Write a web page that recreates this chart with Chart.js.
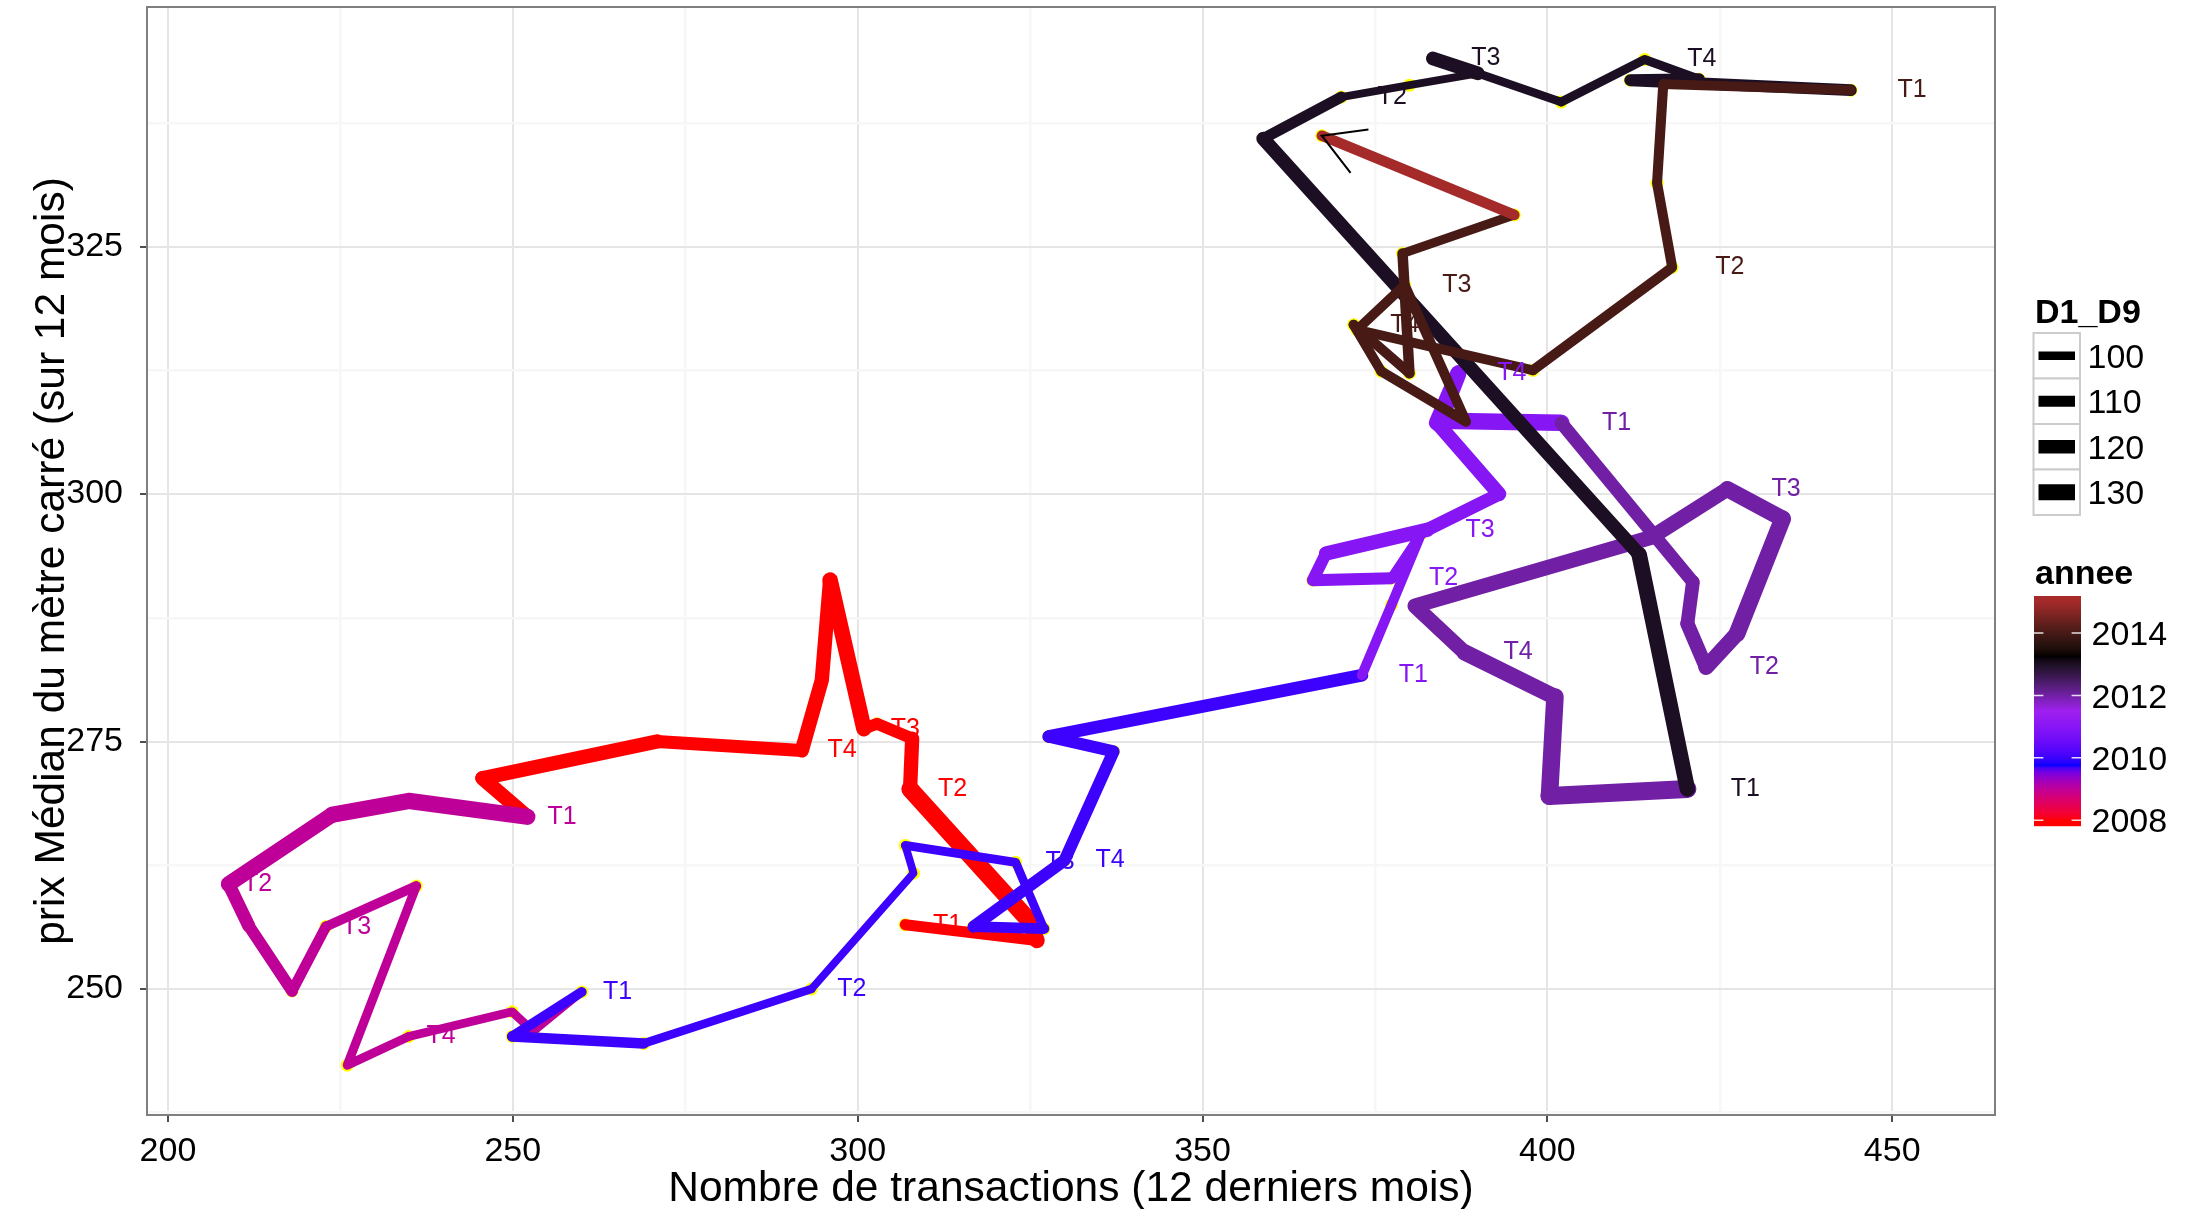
<!DOCTYPE html>
<html lang="fr">
<head>
<meta charset="utf-8">
<title>Prix médian du mètre carré vs nombre de transactions</title>
<script src="https://cdn.jsdelivr.net/npm/chart.js@4.4.1/dist/chart.umd.min.js"></script>
<style>
html, body { margin: 0; padding: 0; background: #ffffff; overflow: hidden; }
canvas { display: block; }
</style>
</head>
<body>
<canvas id="graphique" width="2191" height="1209"></canvas>
<script>
// ---------- Données ----------
const annees = [2008, 2009, 2010, 2011, 2012, 2013, 2014, 2015];

const nb2008   = [306.9, 326.0, 324.6, 307.6, 307.9, 302.8, 300.9, 296.0, 294.8, 291.9, 270.9, 245.6];
const prix2008 = [256.5, 254.9, 257.1, 270.2, 275.3, 276.8, 276.3, 291.3, 281.2, 274.1, 275.0, 271.3];
const d1d9_2008 = [111, 129, 137, 124, 114, 114, 129, 124, 124, 119, 124, 125];

const nb2009   = [252.1, 234.9, 223.8, 208.8, 211.7, 218.0, 222.9, 236.0, 226.0, 234.9, 249.9, 253.0];
const prix2009 = [267.4, 269.0, 267.6, 260.6, 256.4, 249.8, 256.3, 260.4, 242.3, 245.2, 247.7, 245.7];
const d1d9_2009 = [132, 132, 129, 119, 114, 109, 106, 103, 103, 101, 101, 98];

const nb2010   = [260.0, 249.9, 269.0, 293.3, 308.1, 306.9, 322.9, 327.0, 316.8, 330.0, 337.1, 327.7];
const prix2010 = [249.7, 245.2, 244.5, 250.0, 261.7, 264.5, 262.8, 256.1, 256.3, 263.0, 274.0, 275.5];
const d1d9_2010 = [106, 109, 101, 98, 98, 102, 102, 110, 115, 115, 115, 118];

const nb2011   = [373.1, 377.4, 381.7, 377.4, 366.0, 367.9, 382.6, 393.0, 384.0, 387.1, 384.4, 393.0];
const prix2011 = [281.7, 288.8, 296.0, 291.5, 291.3, 294.0, 296.4, 300.0, 307.2, 312.2, 307.4, 307.3];
const d1d9_2011 = [107, 107, 106, 115, 115, 124, 119, 124, 132, 132, 133, 133];

const nb2012   = [402.0, 421.1, 420.3, 423.0, 427.5, 434.1, 426.1, 415.0, 380.8, 388.0, 401.1, 400.3];
const prix2012 = [307.2, 291.1, 286.9, 282.5, 285.9, 297.5, 300.5, 295.6, 288.7, 284.0, 279.5, 269.5];
const d1d9_2012 = [119, 122, 124, 129, 134, 132, 127, 127, 127, 132, 137, 139];

const nb2013   = [420.3, 413.3, 358.8, 370.1, 380.0, 389.9, 383.4, 389.9, 402.0, 414.1, 422.0, 412.0];
const prix2013 = [270.2, 293.9, 335.9, 340.1, 341.3, 342.5, 344.0, 342.5, 339.6, 343.9, 341.9, 341.8];
const d1d9_2013 = [129, 122, 111, 98, 98, 98, 122, 101, 103, 103, 114, 114];

const nb2014   = [444.0, 416.8, 415.9, 418.1, 397.9, 372.4, 379.3, 388.2, 375.9, 371.9, 380.0, 379.0];
const prix2014 = [340.8, 341.4, 331.4, 322.9, 312.5, 316.6, 321.1, 307.3, 312.4, 317.1, 312.2, 324.3];
const d1d9_2014 = [106, 107, 107, 107, 106, 106, 107, 107, 106, 107, 109, 103];

const nb2015   = [395.2, 367.3];
const prix2015 = [328.2, 336.2];
const d1d9_2015 = [109, 109];

const trimestres = ['T1', '', '', 'T2', '', '', 'T3', '', '', 'T4', '', ''];
const anneesEtiquetees = [2008, 2009, 2010, 2011, 2012, 2013, 2014];

const xTicks = [200, 250, 300, 350, 400, 450];
const yTicks = [250, 275, 300, 325];
const d1d9Breaks = [100, 110, 120, 130];
const anneeBreaks = [2008, 2010, 2012, 2014];

// ---------- Echelles de couleur / taille ----------
const FONT = '"Liberation Sans", Arial, Helvetica, sans-serif';
const echelleCouleurs = ['#FF0000', '#0000FF', '#A020F0', '#000000', '#A52A2A'];
const anneeMin = 2008, anneeMax = 2015;

function hexVersRgb(h) { const n = parseInt(h.slice(1), 16); return [(n >> 16) & 255, (n >> 8) & 255, n & 255]; }
function versLin(c) { c /= 255; return c <= 0.04045 ? c / 12.92 : Math.pow((c + 0.055) / 1.055, 2.4); }
function versSrgb(c) { const v = c <= 0.0031308 ? 12.92 * c : 1.055 * Math.pow(c, 1 / 2.4) - 0.055; return Math.round(Math.max(0, Math.min(1, v)) * 255); }
function rgbVersLab(rgb) {
  const R = versLin(rgb[0]), G = versLin(rgb[1]), B = versLin(rgb[2]);
  const X = (0.4124564 * R + 0.3575761 * G + 0.1804375 * B) / 0.95047;
  const Y = (0.2126729 * R + 0.7151522 * G + 0.0721750 * B);
  const Z = (0.0193339 * R + 0.1191920 * G + 0.9503041 * B) / 1.08883;
  const f = t => t > 0.008856 ? Math.cbrt(t) : 7.787 * t + 16 / 116;
  const fx = f(X), fy = f(Y), fz = f(Z);
  return [116 * fy - 16, 500 * (fx - fy), 200 * (fy - fz)];
}
function labVersRgb(lab) {
  const fy = (lab[0] + 16) / 116, fx = fy + lab[1] / 500, fz = fy - lab[2] / 200;
  const inv = t => (t * t * t > 0.008856 ? t * t * t : (t - 16 / 116) / 7.787);
  const X = inv(fx) * 0.95047, Y = inv(fy), Z = inv(fz) * 1.08883;
  const R = 3.2404542 * X - 1.5371385 * Y - 0.4985314 * Z;
  const G = -0.9692660 * X + 1.8760108 * Y + 0.0415560 * Z;
  const B = 0.0556434 * X - 0.2040259 * Y + 1.0572252 * Z;
  return [versSrgb(R), versSrgb(G), versSrgb(B)];
}
const labsEchelle = echelleCouleurs.map(h => rgbVersLab(hexVersRgb(h)));
function couleurAnnee(v) {
  const t = Math.max(0, Math.min(1, (v - anneeMin) / (anneeMax - anneeMin)));
  const n = labsEchelle.length - 1;
  const s = Math.min(Math.floor(t * n), n - 1);
  const f = t * n - s;
  const a = labsEchelle[s], b = labsEchelle[s + 1];
  const rgb = labVersRgb([a[0] + (b[0] - a[0]) * f, a[1] + (b[1] - a[1]) * f, a[2] + (b[2] - a[2]) * f]);
  return 'rgb(' + rgb[0] + ',' + rgb[1] + ',' + rgb[2] + ')';
}
function largeur(d) { return 8.3 + 0.25 * (d - 100); }

// ---------- Construction des points ----------
const series = [
  [2008, nb2008, prix2008, d1d9_2008],
  [2009, nb2009, prix2009, d1d9_2009],
  [2010, nb2010, prix2010, d1d9_2010],
  [2011, nb2011, prix2011, d1d9_2011],
  [2012, nb2012, prix2012, d1d9_2012],
  [2013, nb2013, prix2013, d1d9_2013],
  [2014, nb2014, prix2014, d1d9_2014],
  [2015, nb2015, prix2015, d1d9_2015]
];
const points = [], pointAnnee = [], pointD = [], pointTrim = [];
series.forEach(([an, xs, ys, ds]) => {
  xs.forEach((x, i) => {
    points.push({ x: x, y: ys[i] });
    pointAnnee.push(an);
    pointD.push(ds[i]);
    pointTrim.push(anneesEtiquetees.includes(an) ? trimestres[i] : '');
  });
});
const pointCouleur = pointAnnee.map(a => couleurAnnee(a));

// ---------- Plugins de dessin ----------
const pluginPanneau = {
  id: 'panneau',
  afterDatasetsDraw(chart) {
    const ctx = chart.ctx, ca = chart.chartArea;
    const xs = chart.scales.x, ys = chart.scales.y;
    ctx.save();
    ctx.beginPath();
    ctx.rect(ca.left, ca.top, ca.right - ca.left, ca.bottom - ca.top);
    ctx.clip();
    // étiquettes trimestrielles
    ctx.font = '25px ' + FONT;
    ctx.textAlign = 'center';
    ctx.textBaseline = 'middle';
    points.forEach((p, i) => {
      if (!pointTrim[i]) return;
      ctx.fillStyle = pointCouleur[i];
      ctx.fillText(pointTrim[i], xs.getPixelForValue(p.x * 1.02), ys.getPixelForValue(p.y));
    });
    // flèche finale
    const n = points.length;
    const tx = xs.getPixelForValue(points[n - 1].x), ty = ys.getPixelForValue(points[n - 1].y);
    const px = xs.getPixelForValue(points[n - 2].x), py = ys.getPixelForValue(points[n - 2].y);
    const ang = Math.atan2(py - ty, px - tx);
    const L = 47, A = Math.PI / 6;
    ctx.strokeStyle = '#000000';
    ctx.lineWidth = 2;
    ctx.lineCap = 'butt';
    ctx.beginPath();
    ctx.moveTo(tx + L * Math.cos(ang + A), ty + L * Math.sin(ang + A));
    ctx.lineTo(tx, ty);
    ctx.lineTo(tx + L * Math.cos(ang - A), ty + L * Math.sin(ang - A));
    ctx.stroke();
    ctx.restore();
    // bordure du panneau
    ctx.save();
    ctx.strokeStyle = '#7F7F7F';
    ctx.lineWidth = 2;
    ctx.strokeRect(ca.left, ca.top, ca.right - ca.left, ca.bottom - ca.top);
    ctx.restore();
  }
};

const pluginLegendes = {
  id: 'legendes',
  afterDraw(chart) {
    const ctx = chart.ctx;
    ctx.save();
    ctx.textAlign = 'left';
    ctx.textBaseline = 'alphabetic';
    // Légende D1_D9
    ctx.fillStyle = '#000000';
    ctx.font = 'bold 34px ' + FONT;
    ctx.fillText('D1_D9', 2035, 323);
    const bx = 2033.5, bw = 46.5, btop = 333, bh = 45.5;
    d1d9Breaks.forEach((b, i) => {
      const y0 = btop + i * bh;
      ctx.fillStyle = '#FFFFFF';
      ctx.fillRect(bx, y0, bw, bh);
      ctx.strokeStyle = '#CCCCCC';
      ctx.lineWidth = 2;
      ctx.strokeRect(bx, y0, bw, bh);
      ctx.strokeStyle = '#000000';
      ctx.lineWidth = largeur(b);
      ctx.lineCap = 'butt';
      ctx.beginPath();
      ctx.moveTo(bx + 5, y0 + bh / 2);
      ctx.lineTo(bx + bw - 5, y0 + bh / 2);
      ctx.stroke();
      ctx.fillStyle = '#000000';
      ctx.font = '34px ' + FONT;
      ctx.fillText(String(b), 2087.5, y0 + bh / 2 + 0.358 * 34);
    });
    // Légende annee
    ctx.font = 'bold 34px ' + FONT;
    ctx.fillStyle = '#000000';
    ctx.fillText('annee', 2035, 583.5);
    const cx = 2034, cw = 47, ctop = 596, cbot = 826;
    const nbin = 20;
    const hbin = (cbot - ctop) / nbin;
    const yBas = cbot - hbin / 2, yHaut = ctop + hbin / 2;
    const pxParAn = (yBas - yHaut) / (anneeMax - anneeMin);
    for (let y = ctop; y < cbot; y++) {
      const v = Math.max(anneeMin, Math.min(anneeMax, anneeMin + (yBas - (y + 0.5)) / pxParAn));
      ctx.fillStyle = couleurAnnee(v);
      ctx.fillRect(cx, y, cw, 1.2);
    }
    anneeBreaks.forEach(a => {
      const y = yBas - (a - anneeMin) * pxParAn;
      ctx.strokeStyle = 'rgba(255,255,255,0.85)';
      ctx.lineWidth = 1.5;
      ctx.beginPath();
      ctx.moveTo(cx, y); ctx.lineTo(cx + cw / 5, y);
      ctx.moveTo(cx + cw - cw / 5, y); ctx.lineTo(cx + cw, y);
      ctx.stroke();
      ctx.fillStyle = '#000000';
      ctx.font = '34px ' + FONT;
      ctx.fillText(String(a), 2091.5, y + 0.358 * 34);
    });
    ctx.restore();
  }
};

// ---------- Graphique ----------
const estMajeurX = v => xTicks.includes(v);
const estMajeurY = v => yTicks.includes(v);

new Chart(document.getElementById('graphique'), {
  type: 'scatter',
  data: {
    datasets: [
      {
        label: 'chemin',
        data: points,
        showLine: true,
        order: 1,
        pointRadius: 0,
        pointHitRadius: 0,
        borderCapStyle: 'round',
        borderJoinStyle: 'round',
        tension: 0,
        borderColor: pointCouleur[0],
        borderWidth: largeur(pointD[0]),
        segment: {
          borderColor: c => pointCouleur[c.p0DataIndex],
          borderWidth: c => largeur(pointD[c.p0DataIndex])
        }
      },
      {
        label: 'points',
        data: points,
        showLine: false,
        order: 2,
        pointRadius: 6.5,
        pointBorderWidth: 0,
        pointBackgroundColor: '#FFFF00',
        pointBorderColor: '#FFFF00'
      }
    ]
  },
  options: {
    responsive: false,
    animation: false,
    devicePixelRatio: 1,
    events: [],
    layout: { padding: { left: 0, right: 196, top: 7, bottom: 0 } },
    plugins: { legend: { display: false }, tooltip: { enabled: false } },
    scales: {
      x: {
        type: 'linear',
        min: 196.96,
        max: 464.9,
        afterFit: s => { s.height = 94; s.paddingLeft = 0; s.paddingRight = 0; s.paddingTop = 0; s.paddingBottom = 0; },
        border: { display: false },
        grid: {
          color: c => (c.tick && estMajeurX(c.tick.value)) ? '#E5E5E5' : '#F7F7F7',
          lineWidth: c => (c.tick && estMajeurX(c.tick.value)) ? 2 : 2.5,
          tickLength: 7,
          tickWidth: 2,
          tickColor: c => (c.tick && estMajeurX(c.tick.value)) ? '#4D4D4D' : 'rgba(0,0,0,0)'
        },
        ticks: {
          stepSize: 25,
          includeBounds: false,
          autoSkip: false,
          maxRotation: 0,
          padding: 9,
          color: '#000000',
          font: { family: FONT, size: 34 },
          callback: v => estMajeurX(v) ? String(v) : ''
        },
        title: {
          display: true,
          text: 'Nombre de transactions (12 derniers mois)',
          color: '#000000',
          font: { family: FONT, size: 42.5, lineHeight: 0.91 },
          padding: { top: 0, bottom: 0 }
        }
      },
      y: {
        type: 'linear',
        min: 237.27,
        max: 349.2,
        afterFit: s => { s.width = 147; s.paddingLeft = 0; s.paddingRight = 0; s.paddingTop = 0; s.paddingBottom = 0; },
        border: { display: false },
        grid: {
          color: c => (c.tick && estMajeurY(c.tick.value)) ? '#E5E5E5' : '#F7F7F7',
          lineWidth: c => (c.tick && estMajeurY(c.tick.value)) ? 2 : 2.5,
          tickLength: 7,
          tickWidth: 2,
          tickColor: c => (c.tick && estMajeurY(c.tick.value)) ? '#4D4D4D' : 'rgba(0,0,0,0)'
        },
        ticks: {
          stepSize: 12.5,
          includeBounds: false,
          autoSkip: false,
          padding: 17,
          color: '#000000',
          font: { family: FONT, size: 34 },
          callback: v => estMajeurY(v) ? String(v) : ''
        },
        title: {
          display: true,
          text: 'prix Médian du mètre carré (sur 12 mois)',
          color: '#000000',
          font: { family: FONT, size: 42.5, lineHeight: 1.1 },
          padding: { top: 29, bottom: 0 }
        }
      }
    }
  },
  plugins: [pluginPanneau, pluginLegendes]
});
</script>
</body>
</html>
